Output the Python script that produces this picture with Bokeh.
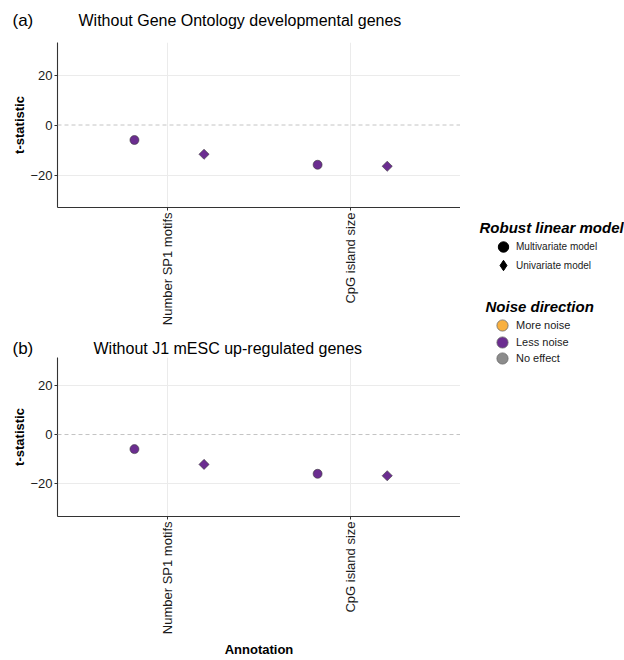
from math import pi
from bokeh.plotting import figure
from bokeh.models import (ColumnDataSource, FactorRange, FixedTicker, Span, Label,
                          Legend, LegendItem)
from bokeh.transform import dodge, factor_cmap
from bokeh.layouts import row, column
from bokeh.embed import file_html
from bokeh.resources import INLINE

# ---------------- data ----------------
categories = ["Number SP1 motifs", "CpG island size"]
panel_tags = ["(a)", "(b)"]
panel_titles = ["Without Gene Ontology developmental genes",
                "Without J1 mESC up-regulated genes"]
multivariate_a = [-6.0, -15.9]
univariate_a = [-11.7, -16.5]
multivariate_b = [-5.9, -15.9]
univariate_b = [-12.1, -16.7]
noise_multi_a = ["Less noise", "Less noise"]
noise_uni_a = ["Less noise", "Less noise"]
noise_multi_b = ["Less noise", "Less noise"]
noise_uni_b = ["Less noise", "Less noise"]
model_types = ["Multivariate model", "Univariate model"]
noise_levels = ["More noise", "Less noise", "No effect"]
noise_colors = ["#F9B03F", "#6B2D90", "#8C8C8C"]
y_ticks = [-20, 0, 20]
y_axis_title = "t-statistic"
x_axis_title = "Annotation"
legend_model_title = "Robust linear model"
legend_noise_title = "Noise direction"

FONT = "Liberation Sans"
TXT = "#1a1a1a"


def bare_figure(width, height):
    f = figure(width=width, height=height, x_range=(0, 1), y_range=(0, 1), output_backend="svg",
               toolbar_location=None, min_border=0, x_axis_location=None,
               y_axis_location=None, title=None)
    f.outline_line_color = None
    f.grid.visible = False
    f.frame_align = False
    return f


def make_header(tag, title, height, center_from_bottom, title_x):
    h = bare_figure(460, height)
    h.add_layout(Label(x=12, y=center_from_bottom, x_units="screen", y_units="screen",
                       text=tag, text_font=FONT, text_font_size="17px", text_color="black",
                       text_baseline="middle"))
    h.add_layout(Label(x=title_x, y=center_from_bottom, x_units="screen", y_units="screen",
                       text=title, text_font=FONT, text_font_size="16px", text_color="black",
                       text_baseline="middle"))
    return h


def make_panel(multi, uni, nmulti, nuni, height, bottom, yr, show_xlabel):
    p = figure(width=460, height=height, x_range=FactorRange(*categories, range_padding=0.1),
               y_range=yr, output_backend="svg", toolbar_location=None,
               min_border_left=57, min_border_right=0, min_border_top=0,
               min_border_bottom=bottom)
    p.outline_line_color = None

    # grid
    p.xgrid.grid_line_color = "#EBEBEB"
    p.ygrid.grid_line_color = "#EBEBEB"
    p.ygrid.ticker = FixedTicker(ticks=[t for t in y_ticks if t != 0])
    p.add_layout(Span(location=0, dimension="width", line_color="#C4C4C4",
                      line_dash="4 3", line_width=1))

    # axes
    p.yaxis.ticker = FixedTicker(ticks=y_ticks)
    for ax in (p.xaxis[0], p.yaxis[0]):
        ax.axis_line_color = "#333333"
        ax.axis_line_width = 1.1
        ax.major_tick_line_color = "#333333"
        ax.major_tick_out = 3
        ax.major_tick_in = 0
        ax.minor_tick_line_color = None
        ax.major_label_text_font = FONT
        ax.major_label_text_font_size = "13px"
        ax.major_label_text_color = TXT
        ax.major_label_standoff = 2
        ax.axis_label_text_font = FONT
        ax.axis_label_text_font_size = "13px"
        ax.axis_label_text_font_style = "bold"
        ax.axis_label_text_color = "black"
    p.xaxis.axis_label_standoff = 5
    p.yaxis.axis_label_standoff = 0
    p.yaxis.axis_label = y_axis_title
    p.xaxis.major_label_orientation = pi / 2
    if show_xlabel:
        p.xaxis.axis_label = x_axis_title

    # points
    src_m = ColumnDataSource(dict(annotation=categories, t=multi, noise=nmulti))
    src_u = ColumnDataSource(dict(annotation=categories, t=uni, noise=nuni))
    fill = factor_cmap("noise", palette=noise_colors, factors=noise_levels)
    p.scatter(x=dodge("annotation", -0.18, range=p.x_range), y="t", source=src_m,
              marker="circle", size=9, fill_color=fill, line_color="#3a3a3a", line_width=0.6)
    p.scatter(x=dodge("annotation", 0.2, range=p.x_range), y="t", source=src_u,
              marker="square", angle=pi / 4, size=7.2, fill_color=fill,
              line_color="#3a3a3a", line_width=0.6)
    return p


ha = make_header(panel_tags[0], panel_titles[0], 42, 22, 78)
pa = make_panel(multivariate_a, univariate_a, noise_multi_a, noise_uni_a, 290, 125,
                (-33, 33), False)
hb = make_header(panel_tags[1], panel_titles[1], 25, 9, 93)
pb = make_panel(multivariate_b, univariate_b, noise_multi_b, noise_uni_b, 303, 142,
                (-33.2, 31.2), True)

# ---------------- legend panel ----------------
lp = bare_figure(164, 660)

nan = float("nan")
placeholder = dict(x=[nan], y=[nan])
model_markers = ["circle", "diamond"]
model_rs = [lp.scatter(x="x", y="y", source=ColumnDataSource(placeholder), marker=m,
                       fill_color="black", line_color="black") for m in model_markers]
noise_rs = [lp.scatter(x="x", y="y", source=ColumnDataSource(placeholder), marker="circle",
                       fill_color=c, line_color="#6a6a6a", line_width=0.8)
            for c in noise_colors]

for txt, ty, tx in ((legend_model_title, 433, 19), (legend_noise_title, 354, 25)):
    lp.add_layout(Label(x=tx, y=ty, x_units="screen", y_units="screen", text=txt,
                        text_font=FONT, text_font_size="15px", text_font_style="bold italic",
                        text_color="black", text_baseline="middle"))


def add_legend(label, renderer, loc, gw, gh, size):
    leg = Legend(items=[LegendItem(label=label, renderers=[renderer])], location=loc,
                 glyph_width=gw, glyph_height=gh, label_standoff=0, padding=0, margin=0,
                 spacing=0, border_line_color=None, background_fill_alpha=0,
                 label_text_font=FONT, label_text_font_size=size, label_text_color=TXT)
    lp.add_layout(leg)


add_legend(model_types[0], model_rs[0], (30, 400), 26, 27, "10px")
add_legend(model_types[1], model_rs[1], (30, 380), 26, 30, "10px")
for lvl, r, vy in zip(noise_levels, noise_rs, [321, 304, 288]):
    add_legend(lvl, r, (28, vy), 28, 28, "11px")

layout = row(column(ha, pa, hb, pb), lp)
open("out.html", "w").write(file_html(layout, INLINE))
